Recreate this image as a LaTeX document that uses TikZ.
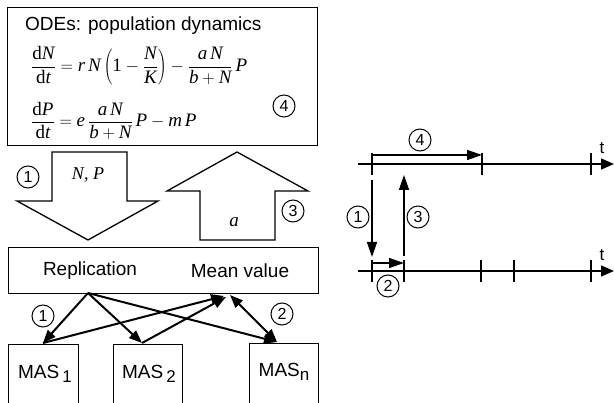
\documentclass[tikz,border=0pt]{standalone}
\usepackage{fontspec}
\setmainfont{Liberation Sans}
\newfontfamily\tms{Liberation Serif}
\usetikzlibrary{arrows.meta}
\newcommand\mi[1]{\mbox{\tms\itshape #1}}
\newcommand\mr[1]{\mbox{\tms #1}}
\begin{document}
\begin{tikzpicture}[x=1pt,y=-1pt,line join=miter,
  box/.style={draw,line width=1.3pt,inner sep=0pt},
  num/.style={circle,draw,line width=1pt,minimum size=22pt,inner sep=0pt,font=\fontsize{16}{16}\selectfont},
  lbl/.style={font=\fontsize{19}{22}\selectfont},
  eqn/.style={font=\fontsize{19}{22}\tms,inner sep=0pt},
  blockarrow/.style={draw,line width=1.3pt},
  masarr/.style={-{Triangle[length=13pt,width=10pt]},line width=2pt},
  masdbl/.style={{Triangle[length=13pt,width=10pt]}-{Triangle[length=13pt,width=10pt]},line width=2pt},
  tarr/.style={-{Triangle[length=15pt,width=10pt]},line width=1.4pt},
  axis/.style={-{Triangle[length=13pt,width=11pt]},line width=1.4pt},
  tick/.style={line width=1.4pt},
]
\useasboundingbox (0,0) rectangle (614,403);

% ---- top box with ODEs
\node[box,anchor=north west,minimum width=310pt,minimum height=138pt] (ode) at (7,7) {};
\node[lbl,anchor=base west,inner sep=0pt] (title) at (25,31) {ODEs: population dynamics};
\node[eqn,anchor=west] (eq1) at (31,66) {$\displaystyle \frac{\mr{d}\mi{N}}{\mr{d}\mi{t}} = \mi{r}\,\mi{N}\left(\mr{1}-\frac{\mi{N}}{\mi{K}}\right)-\frac{\mi{a}\,\mi{N}}{\mi{b}+\mi{N}}\,\mi{P}$};
\node[eqn,anchor=west] (eq2) at (31,121) {$\displaystyle \frac{\mr{d}\mi{P}}{\mr{d}\mi{t}} = \mi{e}\,\frac{\mi{a}\,\mi{N}}{\mi{b}+\mi{N}}\,\mi{P}-\mi{m}\,\mi{P}$};
\node[num] (c4a) at (284,106) {4};

% ---- block arrows
\draw[blockarrow] (52,152) -- (127,152) -- (127,201) -- (158,201) -- (88,240) -- (17,201) -- (52,201) -- cycle;
\node[font=\fontsize{18}{18}\tms\itshape] (np) at (88,175) {N, P};
\node[num] (c1a) at (28,177) {1};
\draw[blockarrow] (237,152) -- (308,191) -- (275,191) -- (275,240) -- (200,240) -- (200,191) -- (167,191) -- cycle;
\node[font=\fontsize{19}{19}\tms\itshape] (aa) at (234,222) {a};
\node[num] (c3a) at (293,211) {3};

% ---- replication box
\node[box,anchor=north west,minimum width=310pt,minimum height=46pt] (rep) at (8,247) {};
\node[lbl] (reptxt) at (90,271) {Replication};
\node[lbl] (meantxt) at (240,271) {Mean value};

% ---- MAS boxes
\node[box,anchor=north west,minimum width=70pt,minimum height=64pt] (mas1) at (8,344) {};
\node[box,anchor=north west,minimum width=69pt,minimum height=64pt] (mas2) at (113,344) {};
\node[box,anchor=north west,minimum width=69pt,minimum height=64pt] (masn) at (249,343) {};
\node[lbl] (t1) at (45,374) {MAS\,\raisebox{-4pt}{\fontsize{17}{17}\selectfont 1}};
\node[lbl] (t2) at (149,374) {MAS\,\raisebox{-4pt}{\fontsize{17}{17}\selectfont 2}};
\node[lbl] (tn) at (284,372) {MAS\raisebox{-4pt}{\fontsize{17}{17}\selectfont n}};

\coordinate (r) at (88,293);
\coordinate (m1top) at (43,343);
\coordinate (m2top) at (142,343);
\coordinate (mntop) at (277,342);
\coordinate (mv1) at (224,296);
\coordinate (mv2) at (226,297);
\coordinate (mvn) at (230,295);
\draw[masarr] (r) -- (m1top);
\draw[masarr] (r) -- (m2top);
\draw[masarr] (r) -- (mntop);
\draw[masarr] (m1top) -- (mv1);
\draw[masarr] (m2top) -- (mv2);
\draw[masdbl] (mntop) -- (mvn);
\node[num] (c1b) at (43,316) {1};
\node[num] (c2b) at (282,314) {2};

% ---- time lines
\coordinate (u0) at (358,164);
\coordinate (u1) at (614,164);
\coordinate (l0) at (358,271);
\coordinate (l1) at (614,271);
\draw[axis] (u0) -- (u1);
\draw[axis] (l0) -- (l1);
\foreach \x in {372,482,591} \draw[tick] (\x,153) -- (\x,175);
\foreach \x in {372,404,481,514,591} \draw[tick] (\x,260) -- (\x,282);
\node[font=\fontsize{17}{17}\selectfont] (tu) at (602,148) {t};
\node[font=\fontsize{17}{17}\selectfont] (tl) at (602,255) {t};

\coordinate (p4s) at (372,155);
\coordinate (p4e) at (482,155);
\draw[tarr] (p4s) -- (p4e);
\node[num] (c4b) at (420,140) {4};
\coordinate (p1s) at (372,180);
\coordinate (p1e) at (372,257);
\draw[tarr] (p1s) -- (p1e);
\node[num] (c1c) at (358,217) {1};
\coordinate (p3s) at (404,256);
\coordinate (p3e) at (404,175);
\draw[tarr] (p3s) -- (p3e);
\node[num] (c3c) at (418,217) {3};
\coordinate (p2s) at (372,263);
\coordinate (p2e) at (404,263);
\draw[tarr] (p2s) -- (p2e);
\node[num] (c2c) at (388,286) {2};
\end{tikzpicture}
\end{document}
